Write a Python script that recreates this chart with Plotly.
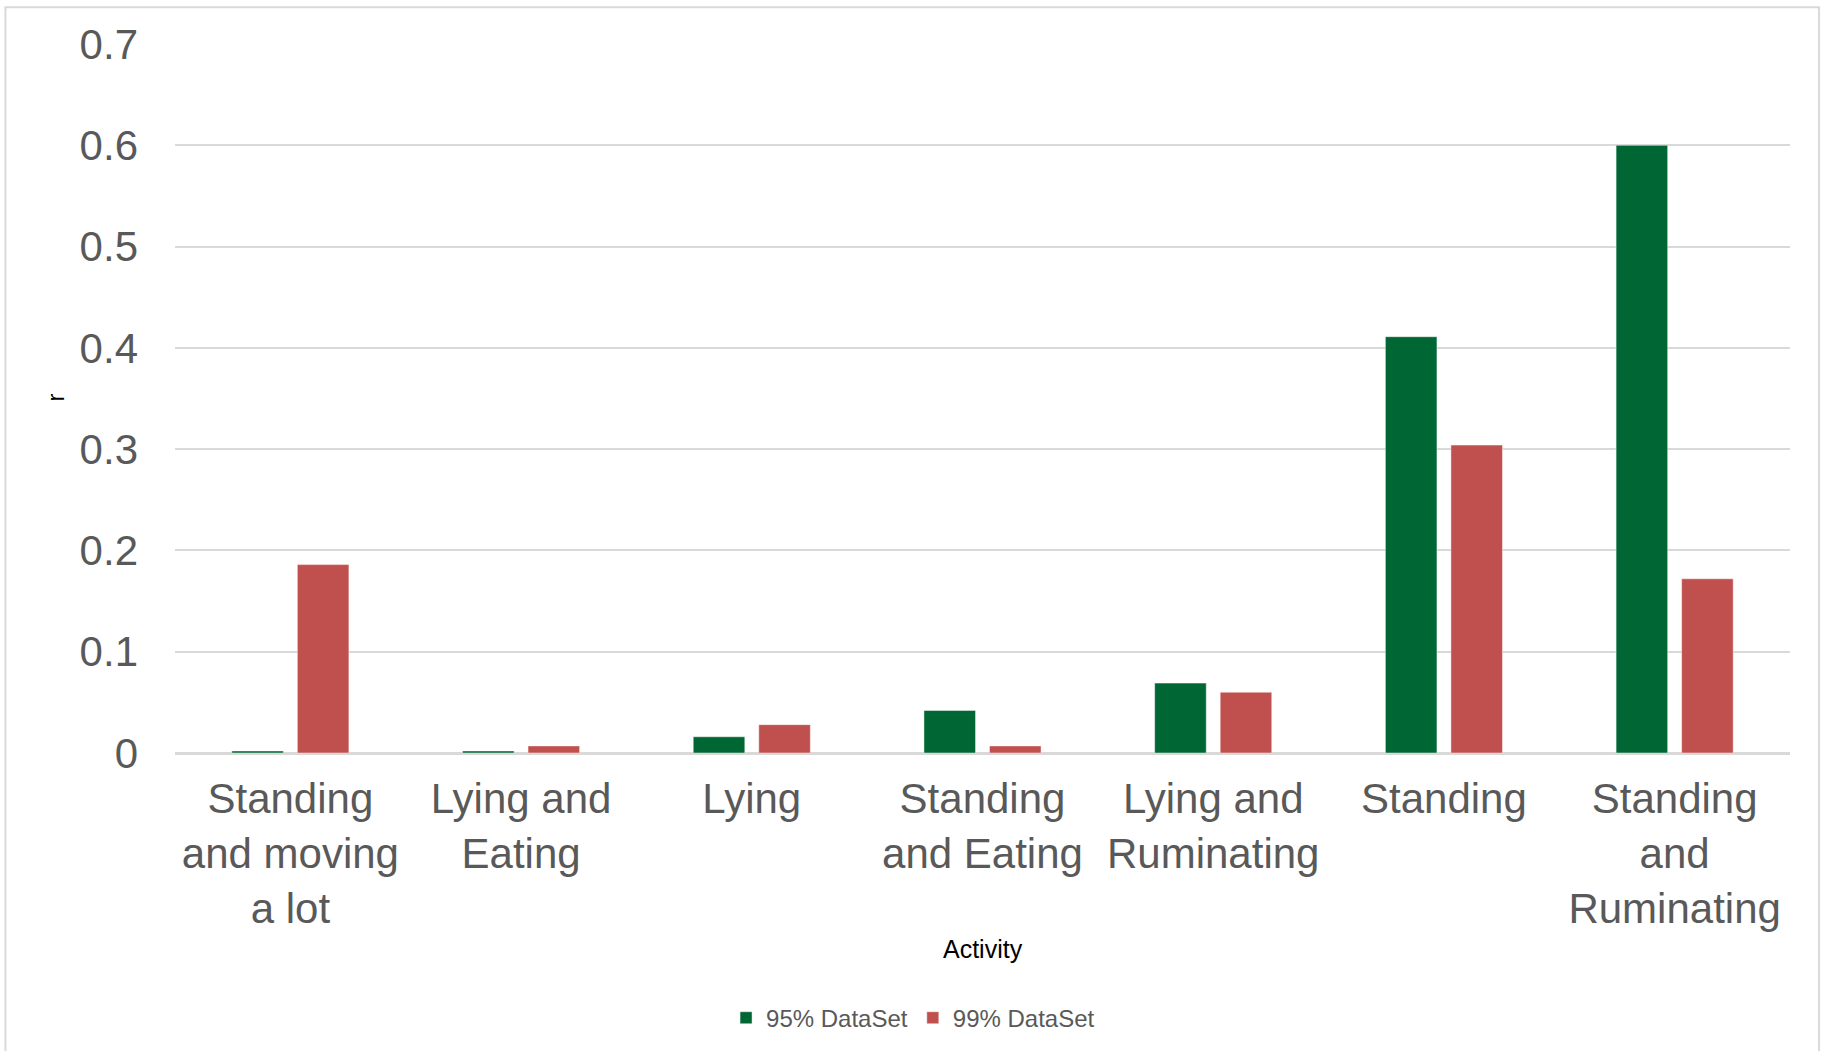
import plotly.graph_objects as go

# Activity categories and correlation values per dataset
activities = [
    "Standing<br>and moving<br>a lot",
    "Lying and<br>Eating",
    "Lying",
    "Standing<br>and Eating",
    "Lying and<br>Ruminating",
    "Standing",
    "Standing<br>and<br>Ruminating",
]
r_95 = [0.002, 0.002, 0.016, 0.042, 0.069, 0.411, 0.600]
r_99 = [0.186, 0.007, 0.028, 0.007, 0.060, 0.304, 0.172]

y_ticks = [0, 0.1, 0.2, 0.3, 0.4, 0.5, 0.6, 0.7]
y_tick_text = ["0", "0.1", "0.2", "0.3", "0.4", "0.5", "0.6", "0.7"]

GREEN = "#006633"
RED = "#C0504D"
GRID = "#D9D9D9"
TEXT = "#595959"
FONT = "Liberation Sans, Arial, sans-serif"

fig = go.Figure()
fig.add_trace(go.Bar(
    x=activities, y=r_95, name="95% DataSet",
    marker=dict(color=GREEN, line=dict(color="rgba(255,255,255,0.45)", width=1)),
))
fig.add_trace(go.Bar(
    x=activities, y=r_99, name="99% DataSet",
    marker=dict(color=RED, line=dict(color="rgba(255,255,255,0.45)", width=1)),
))

fig.update_layout(
    width=1825, height=1051,
    margin=dict(l=175, r=35, t=44, b=297),
    paper_bgcolor="white", plot_bgcolor="white",
    barmode="group", bargap=0.432, bargroupgap=0.213,
    font=dict(family=FONT, color=TEXT),
    showlegend=True,
    legend=dict(
        orientation="h", x=0.457, xanchor="center", y=-0.372, yanchor="middle",
        font=dict(size=24, color=TEXT), itemwidth=30, traceorder="normal",
        bgcolor="rgba(0,0,0,0)",
    ),
    xaxis=dict(
        showgrid=False, showline=True, linecolor=GRID, linewidth=2,
        ticks="", tickfont=dict(size=42, color=TEXT), tickangle=0,
        ticklabelstandoff=8, automargin=False,
    ),
    yaxis=dict(
        range=[0, 0.7], tickvals=y_ticks, ticktext=y_tick_text,
        showgrid=True, gridcolor=GRID, gridwidth=1.5,
        zeroline=True, zerolinecolor=GRID, zerolinewidth=2,
        showline=False, ticks="", ticklabelstandoff=36,
        tickfont=dict(size=42, color=TEXT), automargin=False,
    ),
    annotations=[
        dict(text="Activity", xref="paper", yref="paper", x=0.5, y=-0.276,
             xanchor="center", yanchor="middle", showarrow=False,
             font=dict(size=25, color="black", family=FONT)),
        dict(text="r", xref="paper", yref="paper", x=-0.074, y=0.502,
             xanchor="center", yanchor="middle", showarrow=False, textangle=-90,
             font=dict(size=24, color="black", family=FONT)),
    ],
    shapes=[
        dict(type="rect", xref="paper", yref="paper",
             x0=-0.105, x1=1.018, y0=-0.45, y1=1.052,
             line=dict(color=GRID, width=2), fillcolor="rgba(0,0,0,0)", layer="below"),
    ],
)

fig.write_html("out.html")
